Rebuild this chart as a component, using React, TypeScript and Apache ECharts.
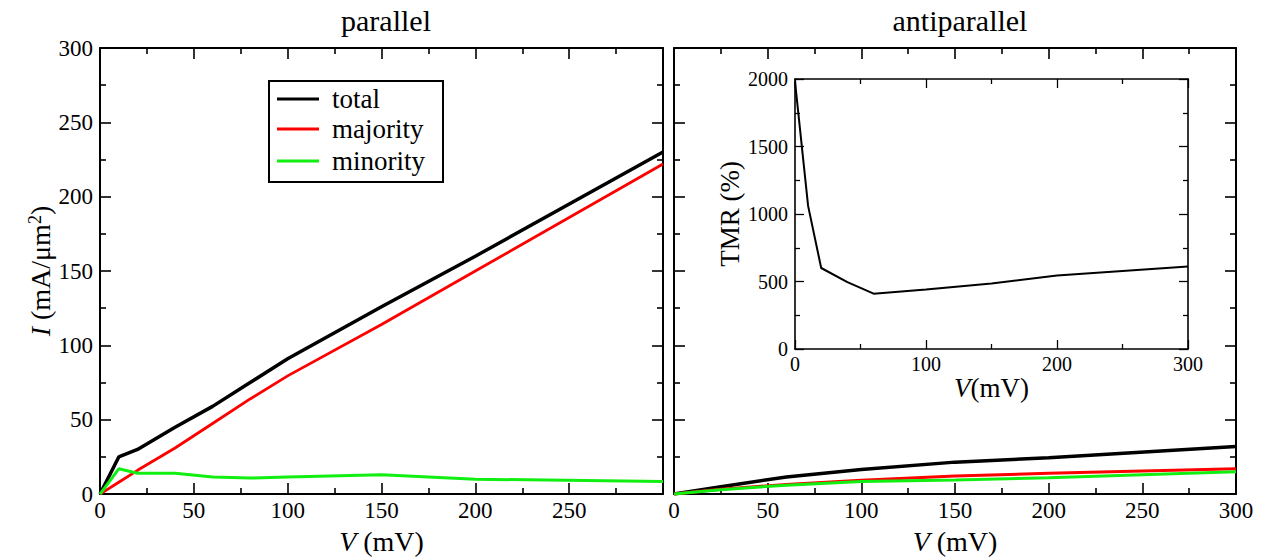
import React, { useEffect, useRef } from "react";
import * as echarts from "echarts";

const FONT = "Liberation Serif";

// parallel panel
const vPar = [0, 10, 20, 40, 60, 80, 100, 150, 200, 300];
const parTotal = [0, 25, 30, 45, 59, 75, 91, 126, 160, 230];
const parMajority = [0, 8, 16, 31, 47.5, 64, 79.5, 114, 150, 222];
const parMinority = [0, 17, 14, 14, 11.5, 10.8, 11.5, 13, 10, 8.5];

// antiparallel panel
const vAnti = [0, 25, 60, 100, 150, 200, 300];
const antiTotal = [0, 5, 11.5, 16.5, 21.5, 24.5, 32];
const antiMajority = [0, 3.2, 6.5, 9.3, 12.2, 14, 17];
const antiMinority = [0, 3, 6, 8.4, 9.5, 11, 15];

// inset TMR
const vTmr = [0, 10, 20, 40, 60, 100, 150, 200, 300];
const tmr = [1980, 1060, 600, 495, 410, 440, 485, 545, 612];

const legendNames = ["total", "majority", "minority"];
const COLORS = ["#000000", "#ff0000", "#11ee11"];

const pairs = (xs: number[], ys: number[]) => xs.map((x, i) => [x, ys[i]]);

function makeAxis(opts: any) {
  const {
    gridIndex, position, min, max, interval, showLabels, lw, tickLen, minorLen, fontSize, hideMax, name, nameGap, nameSize,
  } = opts;
  const ax: any = {
    type: "value",
    gridIndex,
    position,
    min,
    max,
    interval,
    axisLine: { show: true, onZero: false, lineStyle: { color: "#000", width: lw } },
    axisTick: { show: true, inside: true, length: tickLen, lineStyle: { color: "#000", width: lw * 0.8 } },
    minorTick: { show: true, splitNumber: 2, length: minorLen, lineStyle: { color: "#000", width: lw * 0.8 } },
    splitLine: { show: false },
    minorSplitLine: { show: false },
    axisLabel: {
      show: !!showLabels,
      color: "#000",
      fontFamily: FONT,
      fontWeight: "normal",
      fontSize,
      margin: position === "bottom" ? 5 : 7,
      formatter: (v: number) => (hideMax && v === max ? "" : String(v)),
    },
  };
  if (name) {
    ax.name = name;
    ax.nameLocation = "middle";
    ax.nameGap = nameGap;
    ax.nameTextStyle = {
      color: "#000",
      fontFamily: FONT,
      fontSize: nameSize,
      rich: {
        i: { fontStyle: "italic", fontFamily: FONT, fontSize: nameSize, color: "#000" },
        s: { fontFamily: FONT, fontSize: Math.round(nameSize * 0.65), color: "#000", verticalAlign: "top" },
      },
    };
  }
  return ax;
}

export default function App() {
  const ref = useRef<HTMLDivElement>(null);
  useEffect(() => {
    if (!ref.current) return;
    const chart = echarts.init(ref.current, undefined, { renderer: "svg" });
    const main = { lw: 2, tickLen: 11, minorLen: 6, fontSize: 23 };
    const ins = { lw: 1.6, tickLen: 9, minorLen: 5, fontSize: 20 };

    const xAxis = [
      makeAxis({ ...main, gridIndex: 0, position: "bottom", min: 0, max: 300, interval: 50, showLabels: true,
        hideMax: true, name: "{i|V} (mV)", nameGap: 27, nameSize: 28 }),
      makeAxis({ ...main, gridIndex: 0, position: "top", min: 0, max: 300, interval: 50 }),
      makeAxis({ ...main, gridIndex: 1, position: "bottom", min: 0, max: 300, interval: 50, showLabels: true,
        name: "{i|V} (mV)", nameGap: 27, nameSize: 28 }),
      makeAxis({ ...main, gridIndex: 1, position: "top", min: 0, max: 300, interval: 50 }),
      makeAxis({ ...ins, gridIndex: 2, position: "bottom", min: 0, max: 300, interval: 100, showLabels: true,
        name: "{i|V}(mV)", nameGap: 24, nameSize: 27 }),
      makeAxis({ ...ins, gridIndex: 2, position: "top", min: 0, max: 300, interval: 100 }),
    ];
    const yAxis = [
      makeAxis({ ...main, gridIndex: 0, position: "left", min: 0, max: 300, interval: 50, showLabels: true,
        name: "{i|I} (mA/μm{s|2})", nameGap: 46, nameSize: 28 }),
      makeAxis({ ...main, gridIndex: 0, position: "right", min: 0, max: 300, interval: 50 }),
      makeAxis({ ...main, gridIndex: 1, position: "left", min: 0, max: 300, interval: 50 }),
      makeAxis({ ...main, gridIndex: 1, position: "right", min: 0, max: 300, interval: 50 }),
      makeAxis({ ...ins, gridIndex: 2, position: "left", min: 0, max: 2000, interval: 500, showLabels: true,
        name: "TMR (%)", nameGap: 52, nameSize: 27 }),
      makeAxis({ ...ins, gridIndex: 2, position: "right", min: 0, max: 2000, interval: 500 }),
    ];

    const line = (name: string, data: number[][], color: string, width: number, xi: number, yi: number) => ({
      type: "line",
      name,
      data,
      xAxisIndex: xi,
      yAxisIndex: yi,
      showSymbol: false,
      symbol: "none",
      lineStyle: { color, width },
      itemStyle: { color },
    });

    const series = [
      line("total", pairs(vPar, parTotal), COLORS[0], 3.5, 0, 0),
      line("majority", pairs(vPar, parMajority), COLORS[1], 2.8, 0, 0),
      line("minority", pairs(vPar, parMinority), COLORS[2], 3, 0, 0),
      line("total AP", pairs(vAnti, antiTotal), COLORS[0], 3.5, 2, 2),
      line("majority AP", pairs(vAnti, antiMajority), COLORS[1], 3, 2, 2),
      line("minority AP", pairs(vAnti, antiMinority), COLORS[2], 3, 2, 2),
      line("TMR", pairs(vTmr, tmr), "#000", 2, 4, 4),
    ];

    const legendY = [99, 129, 161];
    const legendGraphics: any[] = [
      { type: "rect", shape: { x: 269, y: 81, width: 174, height: 101 }, style: { fill: "#fff", stroke: "#000", lineWidth: 2 }, z: 10 },
    ];
    legendNames.forEach((n, i) => {
      legendGraphics.push({
        type: "line",
        shape: { x1: 277, y1: legendY[i], x2: 319, y2: legendY[i] },
        style: { stroke: COLORS[i], lineWidth: 3 },
        z: 11,
      });
      legendGraphics.push({
        type: "text",
        x: 332,
        y: legendY[i],
        style: { text: n, fill: "#000", fontFamily: FONT, fontSize: 27, verticalAlign: "middle", align: "left" },
        z: 11,
      });
    });

    chart.setOption({
      animation: false,
      backgroundColor: "#fff",
      textStyle: { fontFamily: FONT, fontWeight: "normal" },
      title: [
        { text: "parallel", left: 381, top: 0, textAlign: "center", textStyle: { fontFamily: FONT, fontSize: 30, fontWeight: "normal", color: "#000" } },
        { text: "antiparallel", left: 955, top: 0, textAlign: "center", textStyle: { fontFamily: FONT, fontSize: 30, fontWeight: "normal", color: "#000" } },
      ],
      grid: [
        { left: 100, top: 48, width: 563, height: 452 },
        { left: 674, top: 48, width: 562, height: 452 },
        { left: 795, top: 79, width: 393, height: 270 },
      ],
      xAxis,
      yAxis,
      series,
      graphic: legendGraphics,
    });
    return () => chart.dispose();
  }, []);
  return (
    <div
      ref={ref}
      style={{ position: "fixed", left: 0, top: 0, width: 1270, height: 560, background: "#fff" }}
    />
  );
}
